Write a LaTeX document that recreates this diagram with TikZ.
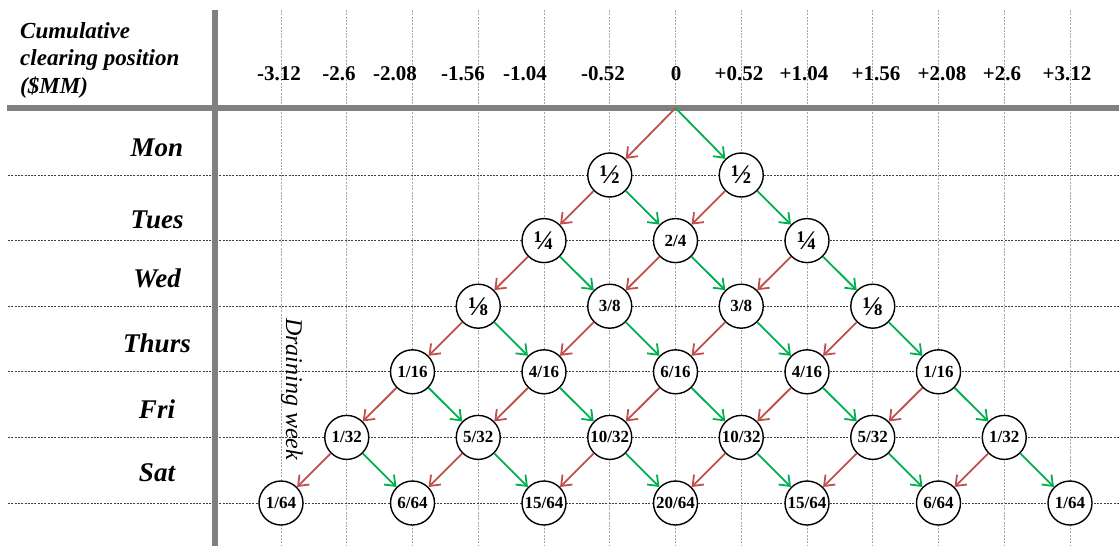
\documentclass[tikz,border=0pt]{standalone}
\usepackage{fontspec}
\setmainfont{Liberation Serif}
\usetikzlibrary{arrows.meta}
\definecolor{arrred}{RGB}{192,80,77}
\definecolor{arrgreen}{RGB}{0,176,80}
\definecolor{thickgray}{RGB}{128,128,128}
\newcommand\fhalf{{\fontsize{27}{27}\selectfont ½}}
\newcommand\fquart{{\fontsize{27}{27}\selectfont ¼}}
\newcommand\feighth{{\fontsize{27}{27}\selectfont ⅛}}
\begin{document}
\begin{tikzpicture}[x=1pt,y=-1pt,
  hline/.style={draw=black!75, line width=0.7pt, dash pattern=on 2pt off 1.3pt},
  vline/.style={draw=black!35, line width=0.7pt, dash pattern=on 2pt off 1.3pt},
  axisline/.style={draw=thickgray, line width=5.5pt},
  prob/.style={circle, draw=black, line width=1.4pt, fill=white, minimum size=44pt, inner sep=0pt, font=\fontsize{17}{17}\selectfont\bfseries},
  redarr/.style={draw=arrred, line width=1.8pt, -{Straight Barb[length=9pt,width=14pt]}},
  greenarr/.style={draw=arrgreen, line width=1.8pt, -{Straight Barb[length=9pt,width=14pt]}},
  colhead/.style={anchor=base, inner sep=0pt, font=\fontsize{21}{21}\selectfont\bfseries},
  rowlab/.style={anchor=base, inner sep=0pt, font=\fontsize{27}{27}\selectfont\bfseries\itshape},
  headtxt/.style={anchor=base west, inner sep=0pt, font=\fontsize{23}{23}\selectfont\bfseries\itshape}
]
\useasboundingbox (0,0) rectangle (1119,546);
% grid
\foreach \i in {0,...,12} \draw[vline] ({281+\i*65.75},10) -- ({281+\i*65.75},546);
\foreach \j in {0,...,5} \draw[hline] (8,{175+\j*65.6}) -- (1119,{175+\j*65.6});
\draw[axisline] (7,108) -- (1119,108);
\draw[axisline] (215,10) -- (215,546);
% header
\node[headtxt] (h1) at (20,38) {Cumulative};
\node[headtxt] (h2) at (20,65.5) {clearing position};
\node[headtxt] (h3) at (20,93) {(\$MM)};
\foreach \lab/\xx [count=\c] in {-3.12/279,-2.6/339,-2.08/395,-1.56/463,-1.04/525,-0.52/603,0/676,+0.52/739,+1.04/804,+1.56/876,+2.08/942,+2.6/1002,+3.12/1067}
  \node[colhead] (c\c) at (\xx,80.5) {\lab};
% row labels
\foreach \lab/\yy [count=\c] in {Mon/156,Tues/228,Wed/287,Thurs/352,Fri/418,Sat/481}
  \node[rowlab] (r\c) at (157,\yy) {\lab};
\node[rotate=-90, inner sep=0pt, font=\fontsize{24}{24}\selectfont\itshape] (drain) at (292,389) {Draining week};
% nodes
\def\xo{281}\def\dx{65.75}
\foreach \lab [count=\k from 0] in {\fhalf,\fhalf}
  \node[prob] (n-1-\k) at ({\xo+(5+2*\k)*\dx},175) {\lab};
\foreach \lab [count=\k from 0] in {\fquart,2/4,\fquart}
  \node[prob] (n-2-\k) at ({\xo+(4+2*\k)*\dx},240.6) {\lab};
\foreach \lab [count=\k from 0] in {\feighth,3/8,3/8,\feighth}
  \node[prob] (n-3-\k) at ({\xo+(3+2*\k)*\dx},306.2) {\lab};
\foreach \lab [count=\k from 0] in {1/16,4/16,6/16,4/16,1/16}
  \node[prob] (n-4-\k) at ({\xo+(2+2*\k)*\dx},371.8) {\lab};
\foreach \lab [count=\k from 0] in {1/32,5/32,10/32,10/32,5/32,1/32}
  \node[prob] (n-5-\k) at ({\xo+(1+2*\k)*\dx},437.4) {\lab};
\foreach \lab [count=\k from 0] in {1/64,6/64,15/64,20/64,15/64,6/64,1/64}
  \node[prob] (n-6-\k) at ({\xo+(2*\k)*\dx},503) {\lab};
% arrows
\coordinate (root) at ({\xo+6*\dx},108);
\draw[redarr] (root) -- (n-1-0);
\draw[greenarr] (root) -- (n-1-1);
\foreach \r in {1,...,5} {
  \foreach \k in {0,...,\r} {
    \pgfmathtruncatemacro\rn{\r+1}
    \pgfmathtruncatemacro\kn{\k+1}
    \draw[redarr] (n-\r-\k) -- (n-\rn-\k);
    \draw[greenarr] (n-\r-\k) -- (n-\rn-\kn);
  }
}
\end{tikzpicture}
\end{document}
